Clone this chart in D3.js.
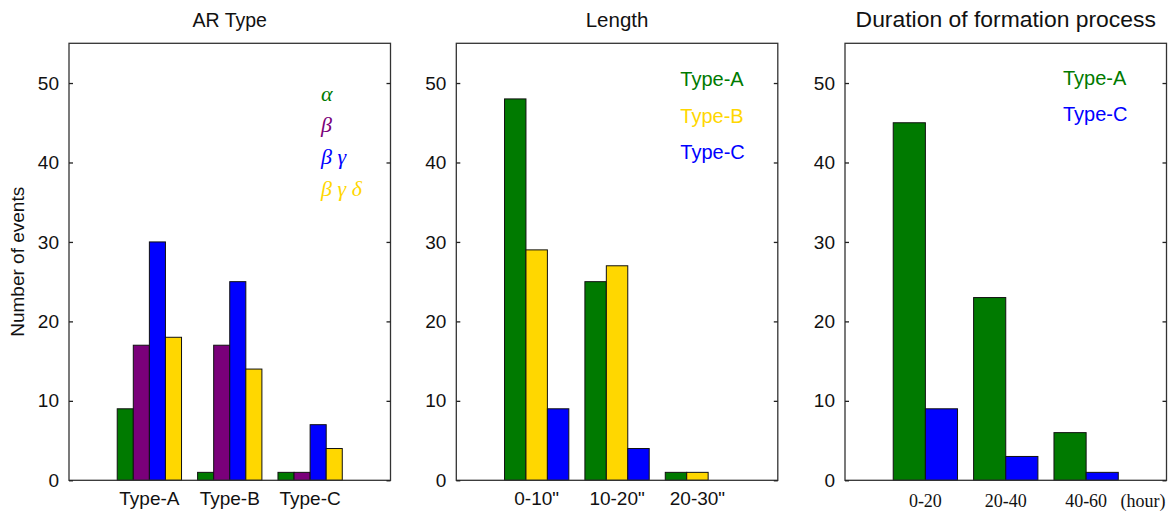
<!DOCTYPE html>
<html>
<head>
<meta charset="utf-8">
<script src="https://cdn.jsdelivr.net/npm/d3@7"></script>
<style>
  body { margin: 0; background: #fff; }
  svg text { font-family: "Liberation Sans", Arial, sans-serif; fill: #111; }
</style>
</head>
<body>
<svg id="svg" width="1172" height="513"></svg>
<script>
// AR type panel
const arCategories = ['Type-A', 'Type-B', 'Type-C']
const arSeries = ['α', 'β', 'β γ', 'β γ δ']
const arAlpha = [9, 1, 1]
const arBeta = [17, 17, 1]
const arBetaGamma = [30, 25, 7]
const arBetaGammaDelta = [18, 14, 4]

// Length panel
const lenCategories = ['0-10"', '10-20"', '20-30"']
const lenSeries = ['Type-A', 'Type-B', 'Type-C']
const lenTypeA = [48, 25, 1]
const lenTypeB = [29, 27, 1]
const lenTypeC = [9, 4, 0]

// Duration panel
const durCategories = ['0-20', '20-40', '40-60']
const durSeries = ['Type-A', 'Type-C']
const durTypeA = [45, 23, 6]
const durTypeC = [9, 3, 1]

const yTicks = [0, 10, 20, 30, 40, 50]

const green = '#007a00'
const purple = '#7a007a'
const blue = '#0000ff'
const gold = '#ffd700'

let svg = d3.select('#svg')

let panels = [
  {
    title: 'AR Type', titleSize: 19.5, left: 69, cats: arCategories,
    names: arSeries, values: [arAlpha, arBeta, arBetaGamma, arBetaGammaDelta],
    colors: [green, purple, blue, gold],
    legendX: 252, legendY: 93, legendStep: 31.7, greek: true,
    yLabel: 'Number of events'
  },
  {
    title: 'Length', titleSize: 20.5, left: 456.3, cats: lenCategories,
    names: lenSeries, values: [lenTypeA, lenTypeB, lenTypeC],
    colors: [green, gold, blue],
    legendX: 224, legendY: 79, legendStep: 36.7
  },
  {
    title: 'Duration of formation process', titleSize: 22.9, left: 845, cats: durCategories,
    names: durSeries, values: [durTypeA, durTypeC],
    colors: [green, blue],
    legendX: 218, legendY: 78.3, legendStep: 36, serifTicks: true, unit: '(hour)'
  }
]

const pw = 321.5
const plotTop = 43.3
const plotBottom = 480.3

let y = d3.scaleLinear().domain([0, 55]).range([plotBottom, plotTop])

panels.forEach(p => {
  let x = d3.scaleLinear().domain([0, 4]).range([p.left, p.left + pw])
  let g = svg.append('g')
  let n = p.values.length
  let bw = 0.8 / n

  // bars (zero counts are not drawn)
  p.values.forEach((vals, j) => {
    let rows = vals.map((v, i) => ({ v: v, i: i })).filter(d => d.v > 0)
    g.selectAll(null)
      .data(rows)
      .enter()
      .append('rect')
      .attr('x', d => x(d.i + 1 - 0.4 + j * bw))
      .attr('width', x(bw) - x(0))
      .attr('y', d => y(d.v))
      .attr('height', d => y(0) - y(d.v))
      .attr('fill', p.colors[j])
      .attr('stroke', '#111')
      .attr('stroke-width', 1)
  })

  // frame
  g.append('rect')
    .attr('x', p.left)
    .attr('y', plotTop)
    .attr('width', pw)
    .attr('height', plotBottom - plotTop)
    .attr('fill', 'none')
    .attr('stroke', '#333')
    .attr('stroke-width', 1.3)

  // y axis left (ticks inward)
  let ax = g.append('g')
    .attr('transform', 'translate(' + p.left + ',0)')
    .call(d3.axisLeft(y).tickValues(yTicks).tickSize(-4).tickPadding(10))
  ax.select('.domain').remove()
  ax.selectAll('line').attr('stroke', '#222').attr('stroke-width', 1.3)
  ax.selectAll('text').style('font-size', '19px').attr('fill', '#111')
    .style('font-family', '"Liberation Sans", Arial, sans-serif')

  let axr = g.append('g')
    .attr('transform', 'translate(' + (p.left + pw) + ',0)')
    .call(d3.axisRight(y).tickValues(yTicks).tickSize(-4).tickFormat(''))
  axr.select('.domain').remove()
  axr.selectAll('line').attr('stroke', '#222').attr('stroke-width', 1.3)

  // x tick labels
  g.selectAll(null)
    .data(p.cats)
    .enter()
    .append('text')
    .attr('x', (d, i) => x(i + 1))
    .attr('y', p.serifTicks ? 507 : 505)
    .attr('text-anchor', 'middle')
    .style('font-size', p.serifTicks ? '18px' : '19px')
    .style('font-family', p.serifTicks ? '"Liberation Serif", "Times New Roman", serif' : null)
    .text(d => d)

  if (p.unit) {
    g.append('text')
      .attr('x', p.left + pw - 1)
      .attr('y', 507)
      .attr('text-anchor', 'end')
      .style('font-size', '18px')
      .style('font-family', '"Liberation Serif", "Times New Roman", serif')
      .text(p.unit)
  }

  // title
  g.append('text')
    .attr('x', p.left + pw / 2)
    .attr('y', 27)
    .attr('text-anchor', 'middle')
    .style('font-size', p.titleSize + 'px')
    .text(p.title)

  // legend
  g.selectAll(null)
    .data(p.names)
    .enter()
    .append('text')
    .attr('x', p.left + p.legendX)
    .attr('y', (d, i) => p.legendY + i * p.legendStep)
    .attr('dominant-baseline', 'central')
    .style('font-size', p.greek ? '22px' : '20px')
    .style('font-style', p.greek ? 'italic' : null)
    .style('font-family', p.greek ? '"Liberation Serif", "Times New Roman", serif' : null)
    .style('fill', (d, i) => p.colors[i])
    .text(d => d)

  if (p.yLabel) {
    svg.append('text')
      .attr('transform', 'translate(24,' + ((plotTop + plotBottom) / 2) + ') rotate(-90)')
      .attr('text-anchor', 'middle')
      .style('font-size', '19px')
      .text(p.yLabel)
  }
})
</script>
</body>
</html>
